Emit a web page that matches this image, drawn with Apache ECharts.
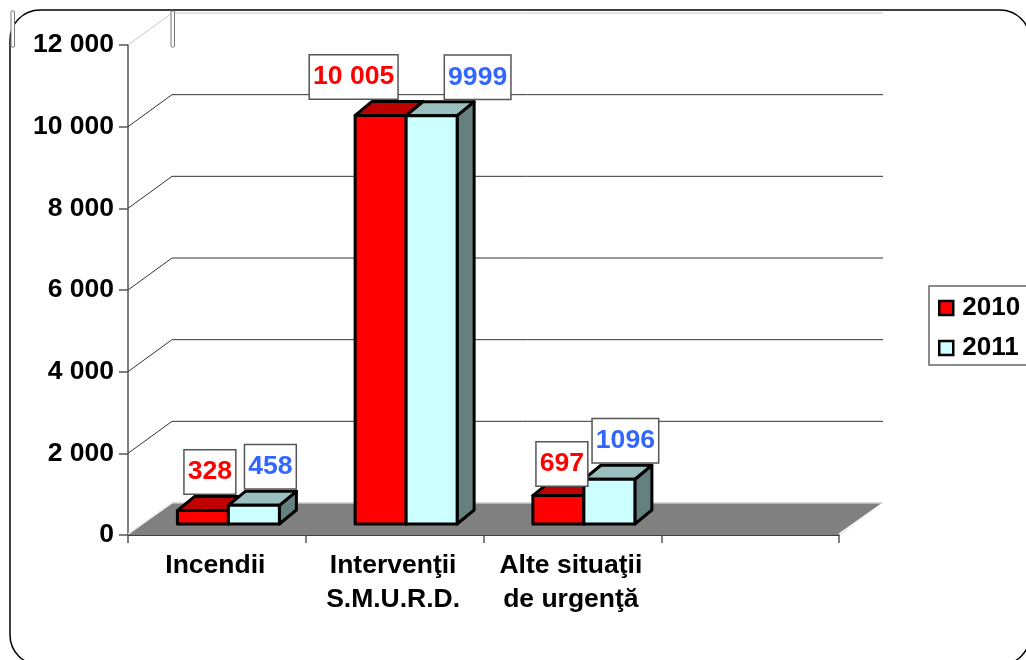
<!DOCTYPE html>
<html>
<head>
<meta charset="utf-8">
<style>
html, body { margin: 0; padding: 0; background: #fff; overflow: hidden; }
#main { width: 1026px; height: 660px; }
</style>
<script src="https://cdn.jsdelivr.net/npm/echarts@6/dist/echarts.min.js"></script>
</head>
<body>
<div id="main"></div>
<script>
var categories = ['Incendii', 'Intervenţii\nS.M.U.R.D.', 'Alte situaţii\nde urgenţă', ''];
var values2010 = [328, 10005, 697];
var values2011 = [458, 9999, 1096];
var labels2010 = ['328', '10 005', '697'];
var labels2011 = ['458', '9999', '1096'];
var yTicks = [0, 2000, 4000, 6000, 8000, 10000, 12000];

var FONT = '"Liberation Sans", Arial, sans-serif';
var WALL_DX = 44, WALL_DY = -32;   // depth of the back wall
var BAR_DX = 11.5, BAR_DY = -11;   // bars stand a bit inside the floor
var BAR_W = 51, BAR_DEPTH_X = 17, BAR_DEPTH_Y = -14;

// manual shift of the value boxes, relative to the top of their bar
var boxShift2010 = [[7, -38.5], [-27, -38.5], [3.5, -31.5]];
var boxShift2011 = [[16.5, -38.5], [46, -38.5], [16, -38.5]];

function renderWalls(params, api) {
	var cs = params.coordSys;
	var v = api.value(0);
	var y = api.coord([0, v])[1];
	var x0 = cs.x, x1 = cs.x + cs.width;
	var bx = x0 + WALL_DX, by = y + WALL_DY;
	var children = [];
	if (v === 0) {
		children.push({
			type: 'polygon',
			shape: { points: [[x0, y], [bx, by], [x1 + WALL_DX, by], [x1, y]] },
			style: { fill: '#808080' }
		});
		children.push({ type: 'line', shape: { x1: bx, y1: by, x2: x1 + WALL_DX, y2: by }, style: { stroke: '#c8c8c8', lineWidth: 1.5 } });
		children.push({ type: 'line', shape: { x1: x0, y1: y - 1, x2: bx, y2: by }, style: { stroke: '#e6e6e6', lineWidth: 1.5 } });
		children.push({ type: 'line', shape: { x1: x1, y1: y - 1, x2: x1 + WALL_DX, y2: by }, style: { stroke: '#ffffff', lineWidth: 1.5 } });
	} else {
		var col = v === 12000 ? '#c8c8c8' : '#333333';
		children.push({ type: 'polyline', shape: { points: [[x0, y], [bx, by], [x1 + WALL_DX, by]] }, style: { fill: null, stroke: col, lineWidth: 1 } });
	}
	return { type: 'group', children: children };
}

function makeBar(slot, front, top, side) {
	return function(params, api) {
		var cat = api.value(0);
		var p = api.coord([cat, api.value(1)]);
		var zero = api.coord([cat, 0]);
		var x = p[0] + BAR_DX + (slot - 1) * BAR_W;
		var yTop = p[1] + BAR_DY, yBase = zero[1] + BAR_DY;
		var x2 = x + BAR_W;
		var line = { stroke: '#000', lineWidth: 3, lineJoin: 'round' };
		return {
			type: 'group',
			children: [
				{ type: 'polygon', shape: { points: [[x2, yTop], [x2 + BAR_DEPTH_X, yTop + BAR_DEPTH_Y], [x2 + BAR_DEPTH_X, yBase + BAR_DEPTH_Y], [x2, yBase]] }, style: Object.assign({ fill: side }, line) },
				{ type: 'polygon', shape: { points: [[x, yTop], [x + BAR_DEPTH_X, yTop + BAR_DEPTH_Y], [x2 + BAR_DEPTH_X, yTop + BAR_DEPTH_Y], [x2, yTop]] }, style: Object.assign({ fill: top }, line) },
				{ type: 'rect', shape: { x: x, y: yTop, width: BAR_W, height: yBase - yTop }, style: Object.assign({ fill: front }, line) }
			]
		};
	};
}

function makeBoxes(slot, texts, shifts, color) {
	return function(params, api) {
		var cat = api.value(0);
		var p = api.coord([cat, api.value(1)]);
		var cx = p[0] + BAR_DX + (slot - 1) * BAR_W + BAR_W / 2 + shifts[cat][0];
		var cy = p[1] + BAR_DY + shifts[cat][1];
		return {
			type: 'text',
			x: cx,
			y: cy,
			style: {
				text: texts[cat],
				font: 'bold 26.6px ' + FONT,
				fill: color,
				align: 'center',
				verticalAlign: 'middle',
				backgroundColor: '#fff',
				borderColor: '#555',
				borderWidth: 1.5,
				padding: [9, 3, 7, 3]
			}
		};
	};
}

function pairs(vals) {
	return vals.map(function(v, i) { return [i, v]; });
}

function barSeries(name, vals, slot, front, top, side) {
	return {
		name: name,
		type: 'custom',
		z: 3 + slot,
		clip: false,
		silent: true,
		itemStyle: { color: front, borderColor: '#000', borderWidth: 3 },
		renderItem: makeBar(slot, front, top, side),
		data: pairs(vals)
	};
}

function boxSeries(vals, slot, texts, shifts, color) {
	return {
		type: 'custom',
		z: 6,
		clip: false,
		silent: true,
		renderItem: makeBoxes(slot, texts, shifts, color),
		data: pairs(vals)
	};
}

var myChart = echarts.init(document.getElementById('main'), null, { renderer: 'canvas' });

var stub = function(x) {
	return {
		type: 'rect',
		shape: { x: x, y: 11, width: 3.5, height: 36, r: 1 },
		style: { fill: '#fff', stroke: '#777', lineWidth: 1 },
		z: 20
	};
};

var option = {
	animation: false,
	backgroundColor: '#fff',
	textStyle: { fontFamily: FONT },
	grid: { left: 128, top: 45, width: 711, height: 490, containLabel: false },
	legend: {
		orient: 'vertical',
		left: 929,
		top: 286,
		padding: [9, 10, 4, 9],
		itemWidth: 14,
		itemHeight: 14,
		itemGap: 14,
		backgroundColor: '#fff',
		borderColor: '#666',
		borderWidth: 1.5,
		textStyle: { fontFamily: FONT, fontSize: 26, fontWeight: 'bold', color: '#000', padding: [0, 0, 0, 4] },
		data: [
			{ name: '2010', icon: 'rect', itemStyle: { color: '#ff0000', borderColor: '#000', borderWidth: 2.5 } },
			{ name: '2011', icon: 'rect', itemStyle: { color: '#ccffff', borderColor: '#000', borderWidth: 2.5 } }
		]
	},
	xAxis: {
		type: 'category',
		data: categories,
		boundaryGap: true,
		axisLine: { lineStyle: { color: '#000', width: 1.5 } },
		axisTick: { show: true, interval: 0, length: 8, lineStyle: { color: '#555', width: 1.5 } },
		axisLabel: {
			interval: 0,
			margin: 14,
			padding: [0, 3, 0, 0],
			color: '#000',
			fontFamily: FONT,
			fontSize: 26.5,
			fontWeight: 'bold',
			lineHeight: 34
		}
	},
	yAxis: {
		type: 'value',
		min: 0,
		max: 12000,
		interval: 2000,
		axisLine: { show: true, lineStyle: { color: '#555', width: 1.5 } },
		axisTick: { show: true, length: 9, lineStyle: { color: '#555', width: 1.5 } },
		splitLine: { show: false },
		axisLabel: {
			margin: 14,
			color: '#000',
			fontFamily: FONT,
			fontSize: 26.5,
			fontWeight: 'bold',
			formatter: function(v) {
				return v >= 1000 ? Math.floor(v / 1000) + ' 000' : String(v);
			}
		}
	},
	graphic: [
		{
			type: 'rect',
			shape: { x: 10, y: 10, width: 1020, height: 655, r: 30 },
			style: { fill: 'none', stroke: '#000', lineWidth: 1.5 },
			z: 20
		},
		stub(11),
		stub(171)
	],
	series: [
		{
			type: 'custom',
			z: 1,
			clip: false,
			silent: true,
			renderItem: renderWalls,
			encode: { y: 0 },
			data: yTicks.map(function(v) { return [v]; })
		},
		barSeries('2010', values2010, 0, '#ff0000', '#bf0000', '#800000'),
		barSeries('2011', values2011, 1, '#ccffff', '#99bfbf', '#668080'),
		boxSeries(values2010, 0, labels2010, boxShift2010, '#ff0000'),
		boxSeries(values2011, 1, labels2011, boxShift2011, '#3366ff')
	]
};

myChart.setOption(option);
</script>
</body>
</html>
